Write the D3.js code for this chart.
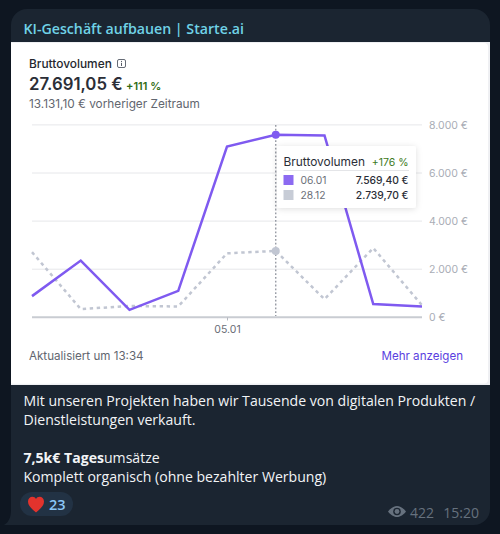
<!DOCTYPE html>
<html lang="de">
<head>
<meta charset="utf-8">
<title>Bruttovolumen</title>
<script src="https://cdn.jsdelivr.net/npm/d3@7"></script>
<style>
  html, body { margin: 0; padding: 0; background: #0e1621; }
  svg { display: block; }
  .ui { font-family: Inter, sans-serif; }
  .msg { font-family: "Open Sans", sans-serif; }
</style>
</head>
<body>
<script>
// Daily gross volume, current period and comparison period
const slots = [0, 1, 2, 3, 4, 5, 6, 7, 8];
const currentPeriod = [860, 2340, 290, 1080, 7080, 7569.4, 7540, 530, 430];
const previousPeriod = [2690, 320, 450, 430, 2640, 2739.7, 730, 2860, 480];
const yTicks = [0, 2000, 4000, 6000, 8000];
const yTickLabels = ["0 €", "2.000 €", "4.000 €", "6.000 €", "8.000 €"];
const xTickSlots = [4];
const xTickLabels = ["05.01"];
const hoverSlot = 5;
const messageLines = [
  "Mit unseren Projekten haben wir Tausende von digitalen Produkten /",
  "Dienstleistungen verkauft."
];

const PURPLE = "#7f5af0", GREY = "#c1c6d2", GRID = "#e6e7ea", BASE = "#c9ccd2";

const svg = d3.select("body").append("svg").attr("width", 500).attr("height", 534);

// Message bubble with its tail at the lower left
svg.append("rect").attr("width", 500).attr("height", 534).attr("fill", "#0e1621");
svg.append("path").attr("fill", "#1b2531")
  .attr("d", "M27,9H474a16,16 0 0 1 16,16V509a16,16 0 0 1 -16,16H4C9,522 11,517 11,510V25a16,16 0 0 1 16,-16Z");

// Embedded card: pale rim with a rounded white face
svg.append("rect").attr("x", 11).attr("y", 42).attr("width", 479).attr("height", 343).attr("fill", "#eff0f3");
svg.append("rect").attr("x", 11).attr("y", 43).attr("width", 477).attr("height", 340.5).attr("rx", 4).attr("fill", "#ffffff");
svg.append("rect").attr("x", 11).attr("y", 43).attr("width", 40).attr("height", 340.5).attr("fill", "#ffffff");

svg.append("text").attr("class", "msg").attr("x", 23.5).attr("y", 34)
  .attr("font-size", 14.2).attr("font-weight", 600).attr("fill", "#70d2e6")
  .text("KI-Geschäft aufbauen | Starte.ai");

// Card header
svg.append("text").attr("class", "ui").attr("x", 29).attr("y", 68)
  .attr("font-size", 11.9).attr("font-weight", 500).attr("fill", "#25272e").text("Bruttovolumen");
svg.append("rect").attr("x", 117.5).attr("y", 59.5).attr("width", 8).attr("height", 8).attr("rx", 1.5)
  .attr("fill", "none").attr("stroke", "#555b66").attr("stroke-width", 0.9);
svg.append("line").attr("x1", 121.5).attr("x2", 121.5).attr("y1", 62.8).attr("y2", 66)
  .attr("stroke", "#555b66").attr("stroke-width", 1);
svg.append("circle").attr("cx", 121.5).attr("cy", 61.4).attr("r", 0.55).attr("fill", "#555b66");

svg.append("text").attr("class", "ui").attr("x", 29).attr("y", 90)
  .attr("font-size", 16.8).attr("font-weight", 600).attr("fill", "#2b2e37").text("27.691,05 €");
svg.append("text").attr("class", "ui").attr("x", 126).attr("y", 90)
  .attr("font-size", 11).attr("font-weight", 600).attr("fill", "#2f6b12").text("+111 %");
svg.append("text").attr("class", "ui").attr("x", 29).attr("y", 108)
  .attr("font-size", 11.8).attr("fill", "#62666f").text("13.131,10 € vorheriger Zeitraum");

// Scales
const x = d3.scalePoint().domain(slots).range([32, 422]);
const y = d3.scaleLinear().domain([0, 8000]).range([316.8, 124.4]);

// Y axis: gridlines plus the labels to the right of the plot
const yAxis = d3.axisRight(y).tickValues(yTicks).tickSize(390)
  .tickFormat((d, i) => yTickLabels[i]);
const yG = svg.append("g").attr("transform", "translate(32,0)").call(yAxis);
yG.select(".domain").remove();
yG.selectAll(".tick line").attr("stroke", d => d === 0 ? BASE : GRID)
  .attr("stroke-width", d => d === 0 ? 2 : 1);
yG.selectAll(".tick text").attr("class", "ui").attr("x", 397).attr("dy", "0.35em")
  .attr("font-size", 10.5).attr("fill", "#a9adb6").attr("font-family", "Inter, sans-serif");

// X axis: a single short tick under the baseline
const xAxis = d3.axisBottom(x).tickValues(xTickSlots).tickSize(3).tickPadding(5)
  .tickFormat((d, i) => xTickLabels[i]);
const xG = svg.append("g").attr("transform", "translate(0,317.5)").call(xAxis);
xG.select(".domain").remove();
xG.selectAll(".tick line").attr("stroke", "#b5b8bf");
xG.selectAll(".tick text").attr("font-size", 10.5).attr("fill", "#696d76")
  .attr("font-family", "Inter, sans-serif");

// Hover guide
svg.append("line").attr("x1", x(hoverSlot)).attr("x2", x(hoverSlot))
  .attr("y1", 125).attr("y2", 316)
  .attr("stroke", "#8f939d").attr("stroke-width", 1.3).attr("stroke-dasharray", "1.8 2");

// Series
const line = d3.line().x((d, i) => x(slots[i])).y(d => y(d));
svg.append("path").datum(previousPeriod).attr("d", line).attr("fill", "none")
  .attr("stroke", GREY).attr("stroke-width", 2.5).attr("stroke-dasharray", "3.4 3.6");
svg.append("path").datum(currentPeriod).attr("d", line).attr("fill", "none")
  .attr("stroke", PURPLE).attr("stroke-width", 2.5).attr("stroke-linejoin", "miter");

svg.append("circle").attr("cx", x(hoverSlot)).attr("cy", y(previousPeriod[hoverSlot])).attr("r", 4).attr("fill", GREY);
svg.append("circle").attr("cx", x(hoverSlot)).attr("cy", y(currentPeriod[hoverSlot])).attr("r", 4).attr("fill", PURPLE);

// Tooltip
const defs = svg.append("defs");
const blur = defs.append("filter").attr("id", "tipShadow")
  .attr("x", "-20%").attr("y", "-20%").attr("width", "140%").attr("height", "140%");
blur.append("feDropShadow").attr("dx", 0).attr("dy", 1).attr("stdDeviation", 3)
  .attr("flood-color", "#000").attr("flood-opacity", 0.13);

const tip = svg.append("g");
tip.append("rect").attr("x", 277).attr("y", 146).attr("width", 139).attr("height", 62).attr("rx", 3)
  .attr("fill", "#fff").attr("filter", "url(#tipShadow)");
tip.append("text").attr("class", "ui").attr("x", 283.5).attr("y", 166)
  .attr("font-size", 11.9).attr("fill", "#2b2e37").text("Bruttovolumen");
tip.append("text").attr("class", "ui").attr("x", 408.5).attr("y", 166).attr("text-anchor", "end")
  .attr("font-size", 10.5).attr("fill", "#3d7a22").text("+176 %");
tip.append("line").attr("x1", 283.5).attr("x2", 409).attr("y1", 170.5).attr("y2", 170.5).attr("stroke", "#e4e5e8");

const tipRows = [
  { date: "06.01", color: PURPLE, value: "7.569,40 €", cy: 180 },
  { date: "28.12", color: GREY, value: "2.739,70 €", cy: 195 }
];
tipRows.forEach(r => {
  tip.append("rect").attr("x", 283.5).attr("y", r.cy - 5).attr("width", 10).attr("height", 10)
    .attr("fill", r.color).attr("opacity", 0.9);
  tip.append("text").attr("class", "ui").attr("x", 300.5).attr("y", r.cy + 4)
    .attr("font-size", 10.3).attr("fill", "#6b6f78").text(r.date);
  tip.append("text").attr("class", "ui").attr("x", 408.5).attr("y", r.cy + 4).attr("text-anchor", "end")
    .attr("font-size", 10.3).attr("font-weight", 500).attr("fill", "#2b2e37").text(r.value);
});

// Card footer
svg.append("text").attr("class", "ui").attr("x", 29).attr("y", 360)
  .attr("font-size", 11.6).attr("fill", "#62666f").text("Aktualisiert um 13:34");
svg.append("text").attr("class", "ui").attr("x", 463).attr("y", 360).attr("text-anchor", "end")
  .attr("font-size", 11.6).attr("fill", "#5b3fe0").text("Mehr anzeigen");

// Message text
const msg = svg.append("g").attr("class", "msg").attr("font-size", 14.08).attr("fill", "#f2f4f6");
messageLines.forEach((t, i) => msg.append("text").attr("x", 23.5).attr("y", 405.5 + i * 19.2).text(t));
const bold = msg.append("text").attr("x", 23.5).attr("y", 463);
bold.append("tspan").attr("font-weight", 700).text("7,5k€ Tages");
bold.append("tspan").text("umsätze");
msg.append("text").attr("x", 23.5).attr("y", 482).text("Komplett organisch (ohne bezahlter Werbung)");

// Reaction pill
svg.append("rect").attr("x", 20).attr("y", 492).attr("width", 53).attr("height", 24).attr("rx", 12).attr("fill", "#223244");
svg.append("path").attr("fill", "#e2332d")
  .attr("d", "M36,512.5C32,509 28,506 28,501.5C28,498.5 30.2,496.8 32.4,496.8C34,496.8 35.3,497.7 36,499C36.7,497.7 38,496.8 39.6,496.8C41.8,496.8 44,498.5 44,501.5C44,506 40,509 36,512.5Z");
svg.append("text").attr("class", "msg").attr("x", 49).attr("y", 509.5)
  .attr("font-size", 14.5).attr("font-weight", 600).attr("fill", "#8ac6f6").text("23");

// View count and time
svg.append("path").attr("fill", "#66717e")
  .attr("d", "M388,511.5C391,507.5 394.5,506 397,506C399.5,506 403,507.5 406,511.5C403,515.5 399.5,517 397,517C394.5,517 391,515.5 388,511.5Z");
svg.append("circle").attr("cx", 397).attr("cy", 511.5).attr("r", 3.8).attr("fill", "#1b2531");
svg.append("circle").attr("cx", 397).attr("cy", 511.5).attr("r", 2.4).attr("fill", "#66717e");
svg.append("text").attr("class", "msg").attr("x", 410).attr("y", 517.5)
  .attr("font-size", 14).attr("fill", "#66717e").text("422");
svg.append("text").attr("class", "msg").attr("x", 479).attr("y", 517.5).attr("text-anchor", "end")
  .attr("font-size", 14).attr("fill", "#66717e").text("15:20");
</script>
</body>
</html>
